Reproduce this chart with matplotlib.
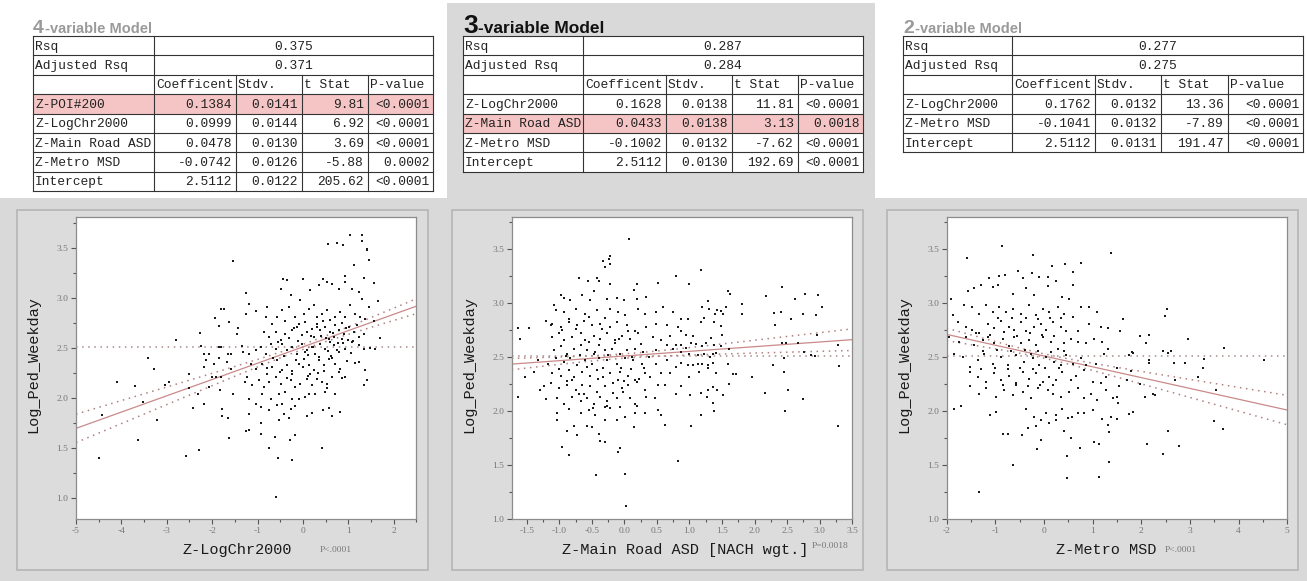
import numpy as np
import matplotlib
matplotlib.use('Agg')
import matplotlib.pyplot as plt
from matplotlib.ticker import MultipleLocator, AutoMinorLocator
from matplotlib.patches import Rectangle

plt.rcParams['axes.unicode_minus'] = False

# ---------------- table data ----------------
t4_rsq, t4_adj = '0.375', '0.371'
t4_vars = ['Z-POI#200', 'Z-LogChr2000', 'Z-Main Road ASD', 'Z-Metro MSD', 'Intercept']
t4_coef = [0.1384, 0.0999, 0.0478, -0.0742, 2.5112]
t4_stdv = [0.0141, 0.0144, 0.0130, 0.0126, 0.0122]
t4_tstat = [9.81, 6.92, 3.69, -5.88, 205.62]
t4_pval = ['<0.0001', '<0.0001', '<0.0001', '0.0002', '<0.0001']

t3_rsq, t3_adj = '0.287', '0.284'
t3_vars = ['Z-LogChr2000', 'Z-Main Road ASD', 'Z-Metro MSD', 'Intercept']
t3_coef = [0.1628, 0.0433, -0.1002, 2.5112]
t3_stdv = [0.0138, 0.0138, 0.0132, 0.0130]
t3_tstat = [11.81, 3.13, -7.62, 192.69]
t3_pval = ['<0.0001', '0.0018', '<0.0001', '<0.0001']

t2_rsq, t2_adj = '0.277', '0.275'
t2_vars = ['Z-LogChr2000', 'Z-Metro MSD', 'Intercept']
t2_coef = [0.1762, -0.1041, 2.5112]
t2_stdv = [0.0132, 0.0132, 0.0131]
t2_tstat = [13.36, -7.89, 191.47]
t2_pval = ['<0.0001', '<0.0001', '<0.0001']

# ---------------- scatter data ----------------
p1_x = [-1.54, -1.26, -1.25, -1.80, -1.74, -1.94, -1.85, -1.63, -2.26, -1.44, -1.45, -2.79, -2.24, -1.85, -1.80,
        -1.34, -3.41, -2.17, -2.08, -2.13, -1.85, -1.66, -1.59, -1.32, -3.28, -2.19, -1.96, -1.67, -1.59, -4.10,
        -3.70, -3.04, -2.95, -2.51, -2.51, -2.00, -1.92, -1.80, -2.08, -1.83, -1.54, -1.28, -2.32, -2.17, -2.42,
        -4.43, -3.53, -3.21, -1.79, -1.79, -1.66, -1.26, -1.64, -3.64, -4.49, -2.58, -2.30,
        1.03, 1.31, 1.29, 0.55, 0.75, 0.89, 1.40, 1.42, 1.46, 1.12, -0.44, -0.35, 0.00, 0.43, 0.92, 1.35, 1.56,
        -1.18, -1.04, -0.79,
        -0.49, -0.27, -0.06, 0.16, 0.35, 0.53, 0.64, 0.79, 0.93, 1.08, 1.23, 1.30, 1.45, 1.65,
        -0.82, -0.68, -0.57, -0.46, -0.31, -0.17, -0.09, 0.02, 0.13, 0.24, 0.31, 0.42, 0.53, 0.60, 0.71, 0.82,
        0.93, 1.04, 1.15, 1.26, 1.37, 1.56,
        -0.86, -0.75, -0.60, -0.49, -0.39, -0.24, -0.13, -0.02, 0.09, 0.20, 0.31, 0.38, 0.49, 0.60, 0.68, 0.79,
        0.90, 1.01, 1.12, 1.23, 1.34, 1.70,
        -1.19, -1.04, -0.93, -0.82, -0.71, -0.60, -0.46, -0.35, -0.24, -0.13, -0.02, 0.09, 0.20, 0.27, 0.38, 0.49,
        0.60, 0.68, 0.79, 0.86, 0.93, 1.08, 1.23, 1.34, 1.48, 1.58,
        -1.15, -1.04, -0.90, -0.79, -0.68, -0.57, -0.46, -0.35, -0.24, -0.09, 0.02, 0.13, 0.24, 0.35, 0.46, 0.57,
        0.71, 0.82, 0.93, 1.23, 1.37,
        -1.23, -1.12, -0.97, -0.86, -0.75, -0.60, -0.49, -0.39, -0.27, -0.17, -0.06, 0.09, 0.20, 0.31, 0.42, 0.53,
        0.64, 0.86, 1.41, 1.34,
        -1.19, -1.04, -0.90, -0.71, -0.53, -0.46, -0.24, -0.09, 0.05, 0.13, 0.27, 0.49, 0.71,
        -1.19, -0.93, -0.75, -0.57, -0.42, -0.27, -0.17, 0.09, 0.20, 0.44, 0.57, 0.64, 0.81,
        -1.19, -0.93, -0.93, -0.62, -0.53, -0.31, -0.28, -0.17, -0.74, -0.55, -0.24, 0.42, -0.59,
        # denser core of the cloud
        -0.40, -0.20, 0.05, 0.18, 0.30, 0.45, 0.58, 0.70, 0.85, 1.00, -0.55, -0.30, -0.10, 0.10, 0.25,
        0.40, 0.55, 0.66, 0.78, 0.95, 1.10, -0.65, -0.42, -0.15, 0.04, 0.22, 0.36, 0.50, 0.62, 0.75, 0.88,
        1.05, 1.20, -0.80, -0.50, -0.25, 0.00, 0.15, 0.33, 0.47, 0.63, 0.80, 0.97, 1.15, -0.35, 0.12, 0.52]
p1_y = [3.37, 3.05, 2.84, 2.89, 2.89, 2.80, 2.72, 2.76, 2.65, 2.70, 2.64, 2.58, 2.52, 2.51, 2.51,
        2.52, 2.40, 2.44, 2.44, 2.38, 2.40, 2.44, 2.44, 2.46, 2.29, 2.31, 2.34, 2.36, 2.29, 2.16,
        2.12, 2.13, 2.16, 2.24, 2.10, 2.21, 2.21, 2.21, 2.11, 2.08, 2.04, 2.16, 2.04, 1.94, 1.90,
        1.83, 1.96, 1.78, 1.89, 1.82, 1.80, 1.67, 1.60, 1.58, 1.40, 1.42, 1.48,
        3.63, 3.63, 3.57, 3.54, 3.55, 3.53, 3.49, 3.48, 3.38, 3.33, 3.19, 3.18, 3.19, 3.19, 3.22, 3.20, 3.15,
        2.94, 2.87, 2.91,
        3.09, 3.03, 2.98, 3.08, 3.13, 3.16, 3.14, 3.09, 3.16, 3.09, 3.06, 2.99, 2.91, 2.97,
        2.81, 2.74, 2.81, 2.88, 2.91, 2.81, 2.74, 2.84, 2.89, 2.93, 2.81, 2.84, 2.88, 2.78, 2.81, 2.86,
        2.81, 2.93, 2.84, 2.81, 2.79, 2.77,
        2.66, 2.61, 2.66, 2.58, 2.64, 2.68, 2.71, 2.63, 2.66, 2.69, 2.74, 2.68, 2.71, 2.66, 2.61, 2.68,
        2.64, 2.71, 2.66, 2.61, 2.64, 2.60,
        2.44, 2.48, 2.51, 2.44, 2.54, 2.49, 2.54, 2.48, 2.51, 2.44, 2.54, 2.48, 2.51, 2.44, 2.54, 2.49,
        2.56, 2.53, 2.46, 2.59, 2.49, 2.56, 2.53, 2.49, 2.50, 2.49,
        2.34, 2.29, 2.34, 2.24, 2.31, 2.38, 2.28, 2.33, 2.24, 2.34, 2.39, 2.33, 2.28, 2.38, 2.33, 2.39,
        2.34, 2.29, 2.21, 2.36, 2.28,
        2.21, 2.13, 2.18, 2.11, 2.16, 2.21, 2.14, 2.06, 2.18, 2.11, 2.14, 2.19, 2.13, 2.19, 2.16, 2.14,
        2.21, 2.20, 2.18, 2.13,
        1.99, 1.94, 2.04, 1.99, 2.04, 1.94, 1.99, 1.99, 2.01, 2.04, 2.04, 2.06, 2.04,
        1.84, 1.91, 1.88, 1.93, 1.84, 1.89, 1.92, 1.82, 1.85, 1.88, 1.90, 1.82, 1.86,
        1.68, 1.75, 1.64, 1.61, 1.78, 1.80, 1.58, 1.63, 1.50, 1.40, 1.38, 1.50, 1.01,
        2.77, 2.70, 2.76, 2.62, 2.71, 2.77, 2.59, 2.73, 2.75, 2.58, 2.56, 2.60, 2.57, 2.43, 2.61,
        2.62, 2.47, 2.65, 2.55, 2.70, 2.57, 2.40, 2.42, 2.38, 2.46, 2.51, 2.41, 2.60, 2.42, 2.48, 2.55,
        2.45, 2.73, 2.30, 2.26, 2.27, 2.31, 2.24, 2.25, 2.27, 2.40, 2.26, 2.37, 2.35, 2.20, 2.22, 2.10]

p2_x = [0.07, -0.33, -0.24, -0.22, -0.29, -0.22, -0.70, -0.56, -0.42, -0.39, 0.80, 0.51, 0.19, 0.15, -0.22,
        -0.47, -0.65, -0.97, -0.93, -1.08, -1.21, -1.12, -1.63, -1.46, -1.60, -1.64, -1.52, -1.39, -1.29, -1.24,
        -1.21,
        -0.83, -0.52, -0.27, -0.12, -0.01, 0.19, 0.34,
        -1.05, -0.93, -0.75, -0.60, -0.42, -0.22, -0.09, 0.01, 0.21, 0.32, 0.49, 0.60, 0.75,
        -1.11, -0.98, -0.85, -0.72, -0.62, -0.50, -0.37, -0.22, -0.12, 0.04, 0.16, 0.34, 0.49, 0.65, 0.82,
        -1.11, -1.00, -0.93, -0.80, -0.67, -0.60, -0.47, -0.37, -0.27, -0.14, -0.04, 0.09, 0.21, 0.44, 0.57,
        0.70, 0.80,
        -1.08, -0.98, -0.88, -0.78, -0.67, -0.57, -0.47, -0.39, -0.29, -0.19, -0.06, 0.04, 0.16, 0.29, 0.49,
        0.65, 0.75,
        -1.33, -1.18, -1.05, -0.93, -0.83, -0.72, -0.60, -0.50, -0.39, -0.27, -0.12, 0.01, 0.14, 0.27, 0.49,
        0.65, 0.80,
        -1.11, -0.98, -0.85, -0.78, -0.65, -0.52, -0.42, -0.32, -0.22, -0.06, 0.06, 0.16, 0.32, 0.39, 0.57,
        0.70,
        -1.13, -1.00, -0.88, -0.75, -0.65, -0.52, -0.42, -0.29, -0.17, -0.04, 0.06, 0.19, 0.32, 0.52, 0.62,
        0.79,
        -1.03, -0.93, -0.80, -0.67, -0.57, -0.47, -0.37, -0.27, -0.12, 0.09, 0.16, 0.34, 0.47,
        -1.03, -0.85, -0.67, -0.55, -0.45, -0.29, -0.22, -0.06, 0.01, 0.16, 0.32, 0.52, 0.57,
        -1.03, -0.88, -0.78, -0.57, -0.50, -0.39, -0.29, -0.12, 0.15, 0.62, -0.72,
        -0.95, -0.85, -0.37, -0.29, -0.06, -0.09, -0.43, 0.01, 0.03, 0.82,
        1.17, 0.99, 1.59, 1.62, 1.28, 1.20, 1.30, 1.42, 1.48, 1.52, 1.39, 1.56, 1.80, 1.81, 2.17, 2.42, 2.62,
        2.77, 2.97, 3.04, 2.30, 2.41, 2.74, 2.94, 2.31, 2.56,
        0.87, 0.98, 1.18, 1.23, 1.38, 1.48, 0.87, 0.95, 1.05, 1.33, 1.50,
        0.87, 0.95, 1.03, 1.10, 1.20, 1.25, 1.38, 1.48,
        0.87, 1.00, 1.13, 1.23, 1.31, 1.36, 1.41, 1.61,
        0.87, 0.98, 1.05, 1.13, 1.20, 1.28, 1.36, 1.59,
        0.87, 1.00, 1.15, 1.28, 1.41,
        1.01, 1.18, 1.28, 1.36, 1.43, 1.51, 1.61, 1.67, 1.71,
        1.27, 1.36, 1.38, 1.17, 1.03,
        1.96, 2.16, 2.28, 2.46, 2.46, 2.49, 2.42, 2.67, 2.76, 2.87, 2.96, 2.93, 2.51, 2.75, 2.47, 3.28, 3.28,
        3.29,
        # denser core of the cloud
        -0.95, -0.75, -0.55, -0.35, -0.15, 0.05, 0.25, -0.90, -0.68, -0.45, -0.25, -0.05, 0.12, 0.38,
        -1.00, -0.80, -0.58, -0.33, -0.10, 0.10, 0.30, -0.88, -0.62, -0.40, -0.18, 0.00, 0.22, -0.70,
        -0.48, -0.26, -0.02, 0.20, -0.85, -0.55, -0.30, -0.08]
p2_y = [3.60, 3.39, 3.41, 3.44, 3.34, 3.36, 3.23, 3.21, 3.23, 3.21, 3.25, 3.19, 3.18, 3.12, 3.18,
        3.11, 3.08, 3.08, 3.05, 2.98, 2.84, 2.80, 2.77, 2.77, 2.67, 2.13, 2.32, 2.36, 2.20, 2.23,
        2.11,
        3.03, 3.03, 3.04, 3.05, 3.03, 3.04, 3.06,
        2.94, 2.92, 2.95, 2.90, 2.94, 2.95, 2.92, 2.89, 2.95, 2.90, 2.92, 2.97, 2.92,
        2.81, 2.78, 2.83, 2.80, 2.84, 2.80, 2.81, 2.78, 2.83, 2.80, 2.74, 2.78, 2.81, 2.80, 2.78,
        2.69, 2.72, 2.66, 2.69, 2.72, 2.66, 2.70, 2.67, 2.72, 2.66, 2.70, 2.67, 2.72, 2.69, 2.66,
        2.70, 2.61,
        2.57, 2.60, 2.53, 2.58, 2.61, 2.57, 2.53, 2.61, 2.57, 2.58, 2.53, 2.57, 2.58, 2.55, 2.57,
        2.61, 2.58,
        2.47, 2.44, 2.49, 2.46, 2.49, 2.43, 2.47, 2.44, 2.49, 2.47, 2.44, 2.49, 2.47, 2.44, 2.44,
        2.47, 2.41,
        2.35, 2.33, 2.38, 2.32, 2.36, 2.33, 2.38, 2.32, 2.35, 2.36, 2.33, 2.29, 2.35, 2.32, 2.35,
        2.35,
        2.26, 2.21, 2.24, 2.20, 2.24, 2.23, 2.18, 2.23, 2.26, 2.21, 2.24, 2.27, 2.20, 2.24, 2.24,
        2.16,
        2.12, 2.07, 2.13, 2.09, 2.12, 2.07, 2.13, 2.09, 2.12, 2.12, 2.07, 2.13, 2.12,
        1.98, 2.02, 1.98, 2.01, 1.96, 2.04, 2.03, 2.04, 1.95, 1.98, 1.98, 2.01, 1.96,
        1.92, 1.82, 1.86, 1.86, 1.85, 1.79, 1.92, 1.92, 1.85, 1.87, 1.78,
        1.67, 1.59, 1.72, 1.71, 1.66, 1.62, 1.41, 1.42, 1.12, 1.54,
        3.31, 3.18, 3.11, 3.09, 3.02, 2.97, 2.95, 2.94, 2.93, 2.90, 2.90, 2.97, 2.99, 2.90, 3.07, 3.15, 3.04,
        3.09, 3.08, 2.97, 2.91, 2.92, 2.90, 2.89, 2.80, 2.85,
        2.85, 2.85, 2.83, 2.86, 2.83, 2.79, 2.74, 2.71, 2.70, 2.68, 2.71,
        2.61, 2.59, 2.63, 2.62, 2.60, 2.63, 2.61, 2.60,
        2.55, 2.53, 2.52, 2.53, 2.50, 2.53, 2.54, 2.58,
        2.45, 2.43, 2.43, 2.44, 2.44, 2.43, 2.45, 2.44,
        2.23, 2.32, 2.36, 2.40, 2.35,
        2.15, 2.17, 2.20, 2.22, 2.20, 2.15, 2.25, 2.34, 2.34,
        2.13, 2.08, 2.00, 1.96, 1.86,
        2.32, 2.17, 2.43, 2.49, 2.36, 2.63, 2.63, 2.63, 2.55, 2.52, 2.71, 2.51, 2.20, 2.11, 2.00, 1.86, 2.61,
        2.42,
        2.75, 2.76, 2.64, 2.76, 2.63, 2.74, 2.62, 2.51, 2.52, 2.55, 2.52, 2.40, 2.50, 2.50,
        2.39, 2.29, 2.41, 2.40, 2.29, 2.39, 2.40, 2.28, 2.16, 2.30, 2.17, 2.28, 2.30, 2.16,
        2.03, 2.05, 2.18, 2.05, 2.85, 2.87, 2.86, 2.67]

p3_x = [-0.87, -1.59, -0.23, 1.38, 0.16, 0.43, 0.76, -0.54, 0.59, -1.14, -0.92, -0.80, -0.44, -0.25, -0.10,
        0.25, 0.08, -1.91, -1.57, -1.43, -1.29, -1.05, -0.95, -0.64, -0.37, -0.20, 0.08, 0.38, 0.59, 0.52,
        -1.88, -1.64, -1.47, -1.33, -1.19, -1.05, -0.92, -0.78, -0.64, -0.47, -0.30, -0.16, -0.03, 0.11, 0.28,
        0.42, 0.59, 0.76, 0.93, 1.10,
        -1.77, -1.60, -1.47, -1.33, -1.16, -1.02, -0.88, -0.71, -0.61, -0.47, -0.37, -0.20, -0.06, 0.04, 0.18,
        0.35, 0.45, 0.69, 0.93, 1.17, 1.31,
        -1.95, -1.74, -1.60, -1.43, -1.26, -1.16, -1.02, -0.85, -0.71, -0.61, -0.47, -0.30, -0.16, -0.03, 0.14,
        0.28, 0.42, 0.55, 0.69, 0.86, 1.03, 1.20, 1.31,
        -1.84, -1.67, -1.53, -1.36, -1.23, -1.05, -0.88, -0.75, -0.58, -0.41, -0.27, -0.23, -0.10, 0.04, 0.21,
        0.35, 0.45, 0.59, 0.76, 0.86, 1.07, 1.24,
        -1.53, -1.36, -1.19, -1.02, -0.88, -0.71, -0.58, -0.44, -0.30, -0.16, -0.03, 0.11, 0.25, 0.38, 0.55,
        0.66, 0.83, 1.00, 1.17, 1.27,
        -1.53, -1.33, -1.19, -0.99, -0.82, -0.64, -0.44, -0.27, -0.13, 0.08, 0.18, 0.35, 0.52, 0.69, 0.83,
        0.97, 1.10, 1.27, 1.41,
        -1.84, -1.71, -1.12, -0.99, -0.37, -0.20, -0.06, 0.04, 0.25, 0.38, 0.49, 0.58, 0.69, 0.83, 1.00,
        1.20, 1.38, 1.31,
        -0.85, -0.75, -0.45, -0.32, -0.17, 0.11, 0.25, 0.42, 0.55, 0.75, 1.02, 1.14, 1.34, -0.14, -0.06,
        -0.64, 0.47, 0.48, 1.14, 1.34, -1.34,
        2.52, 2.49, 1.63, 1.57, 1.98, 2.16, 2.10, 2.97, 3.71, 1.80, 1.82, 1.74, 2.44, 2.54, 2.61, 2.16, 2.16,
        2.68, 2.90, 3.29, 3.27, 4.53, 1.51, 1.79, 1.55, 1.70, 1.98, 2.70, 3.16, 3.53, 1.51, 1.53, 2.08, 2.25,
        2.28, 1.51, 1.75, 1.84, 2.55, 3.50, 3.69, 2.12, 2.78, 2.44,
        # denser core of the cloud
        -1.40, -1.10, -0.82, -0.55, -0.28, -0.05, 0.20, -1.25, -0.96, -0.68, -0.40, -0.12, 0.15, 0.42,
        -1.30, -1.00, -0.75, -0.50, -0.22, 0.02, 0.30, -0.85, -0.58, -0.33, -0.08, 0.18, -0.95, -0.65,
        -0.38, -0.12, 0.12, 0.36]
p3_y = [3.53, 3.42, 3.45, 3.47, 3.35, 3.36, 3.37, 3.30, 3.29, 3.23, 3.25, 3.26, 3.23, 3.28, 3.24,
        3.21, 3.24, 3.04, 3.11, 3.14, 3.17, 3.15, 3.17, 3.09, 3.14, 3.08, 3.16, 3.06, 3.17, 3.04,
        2.89, 2.98, 2.97, 2.90, 2.98, 2.92, 2.97, 2.92, 2.95, 2.90, 2.98, 2.89, 2.95, 2.92, 2.97,
        2.90, 2.87, 2.97, 2.97, 2.92,
        2.83, 2.78, 2.75, 2.72, 2.81, 2.77, 2.84, 2.78, 2.75, 2.83, 2.74, 2.78, 2.81, 2.75, 2.83,
        2.78, 2.74, 2.74, 2.81, 2.78, 2.77,
        2.69, 2.64, 2.69, 2.61, 2.66, 2.69, 2.63, 2.67, 2.60, 2.69, 2.63, 2.66, 2.61, 2.69, 2.64,
        2.58, 2.63, 2.67, 2.64, 2.63, 2.67, 2.64, 2.58,
        2.53, 2.50, 2.41, 2.47, 2.53, 2.44, 2.50, 2.43, 2.52, 2.46, 2.53, 2.49, 2.43, 2.50, 2.46,
        2.43, 2.52, 2.44, 2.49, 2.43, 2.44, 2.53,
        2.36, 2.32, 2.27, 2.35, 2.29, 2.33, 2.26, 2.36, 2.30, 2.35, 2.27, 2.32, 2.29, 2.36, 2.29,
        2.33, 2.38, 2.27, 2.26, 2.32,
        2.23, 2.16, 2.21, 2.13, 2.20, 2.15, 2.18, 2.12, 2.21, 2.20, 2.16, 2.13, 2.18, 2.21, 2.12,
        2.16, 2.10, 2.20, 2.12,
        2.02, 2.05, 1.96, 1.99, 2.02, 1.95, 1.92, 1.98, 1.96, 2.02, 1.94, 1.95, 1.98, 1.98, 2.01,
        1.93, 1.95, 1.87,
        1.79, 1.79, 1.78, 1.84, 1.86, 1.89, 1.92, 1.82, 1.75, 1.66, 1.71, 1.70, 1.81, 1.65, 1.73,
        1.50, 1.58, 1.38, 1.39, 1.53, 1.25,
        2.95, 2.88, 2.85, 2.74, 2.70, 2.71, 2.63, 2.67, 2.59, 2.55, 2.54, 2.52, 2.56, 2.54, 2.56, 2.47, 2.45,
        2.45, 2.45, 2.48, 2.40, 2.47, 2.40, 2.37, 2.23, 2.29, 2.25, 2.29, 2.32, 2.20, 2.13, 2.08, 2.13, 2.16,
        2.15, 1.93, 1.97, 1.99, 1.82, 1.91, 1.83, 1.70, 1.68, 1.60,
        2.72, 2.71, 2.73, 2.70, 2.72, 2.71, 2.70, 2.56, 2.57, 2.56, 2.57, 2.56, 2.55, 2.56,
        2.39, 2.40, 2.39, 2.40, 2.39, 2.40, 2.40, 2.24, 2.24, 2.23, 2.24, 2.24, 2.86, 2.86,
        2.86, 2.85, 2.86, 2.86]

# regression read-offs: intercept, slope, band half-width at x=0 and growth per unit x
intercept = 2.5112
slopes = [0.163, 0.0433, -0.1002]
band_a = [0.025, 0.02, 0.02]
band_b = [0.028, 0.028, 0.027]

xlabels = ['Z-LogChr2000', 'Z-Main Road ASD [NACH wgt.]', 'Z-Metro MSD']
ptexts = ['P<.0001', 'P=0.0018', 'P<.0001']

W, H = 1307, 581
fig = plt.figure(figsize=(W / 100, H / 100), dpi=100)
fig.patch.set_facecolor('white')

bg = fig.add_axes([0, 0, 1, 1])
bg.set_xlim(0, W)
bg.set_ylim(H, 0)
bg.axis('off')

gray = '#d9d9d9'
bg.add_patch(Rectangle((0, 198), W, H - 198, color=gray, lw=0))
bg.add_patch(Rectangle((447, 3), 428, 196, color=gray, lw=0))
for px in [17, 452, 887]:
    bg.add_patch(Rectangle((px, 210), 411, 360, facecolor='#dcdcdc', edgecolor='#b5b5b5', lw=1.2))

mono = 'Liberation Mono'
tfs = 9.3
RH = 19.4
TOP = 36


def draw_title(x, digit, size_big, size_small, color, dx):
    bg.text(x, 33, digit, fontsize=size_big, fontweight='bold', color=color,
            family='Liberation Sans', va='baseline', ha='left')
    bg.text(x + dx, 33, '-variable Model', fontsize=size_small, fontweight='bold', color=color,
            family='Liberation Sans', va='baseline', ha='left')


def draw_table(xe, rsq, adj, names, coef, stdv, tstat, pval, pink=None):
    n = 3 + len(names)
    bottom = TOP + n * RH
    bg.add_patch(Rectangle((xe[0], TOP), xe[-1] - xe[0], n * RH, color='white', lw=0))
    if pink is not None:
        yp = TOP + (3 + pink) * RH
        bg.add_patch(Rectangle((xe[0], yp), xe[-1] - xe[0], RH, color='#f5c5c5', lw=0))
    for i in range(n + 1):
        y = TOP + i * RH
        bg.plot([xe[0], xe[-1]], [y, y], color='#333333', lw=0.8)
    bg.plot([xe[0], xe[0]], [TOP, bottom], color='#333333', lw=0.8)
    bg.plot([xe[-1], xe[-1]], [TOP, bottom], color='#333333', lw=0.8)
    bg.plot([xe[1], xe[1]], [TOP, bottom], color='#333333', lw=0.8)
    for k in range(2, 5):
        bg.plot([xe[k], xe[k]], [TOP + 2 * RH, bottom], color='#333333', lw=0.8)

    def cell(row, txt, x, ha):
        bg.text(x, TOP + (row + 0.55) * RH, txt, fontsize=tfs, family=mono, color='#222222',
                ha=ha, va='center')

    mid = (xe[1] + xe[-1]) / 2
    cell(0, 'Rsq', xe[0] + 2, 'left')
    cell(0, rsq, mid, 'center')
    cell(1, 'Adjusted Rsq', xe[0] + 2, 'left')
    cell(1, adj, mid, 'center')
    for k, h in enumerate(['Coefficent', 'Stdv.', 't Stat', 'P-value']):
        cell(2, h, xe[k + 1] + 2, 'left')
    for r, name in enumerate(names):
        cell(3 + r, name, xe[0] + 2, 'left')
        cell(3 + r, f'{coef[r]:.4f}', xe[2] - 4, 'right')
        cell(3 + r, f'{stdv[r]:.4f}', xe[3] - 4, 'right')
        cell(3 + r, f'{tstat[r]:.2f}', xe[4] - 4, 'right')
        cell(3 + r, pval[r], xe[5] - 3, 'right')


draw_title(33, '4', 14, 10.5, '#9a9a9a', 12)
draw_table([33, 154, 236, 302, 368, 433], t4_rsq, t4_adj, t4_vars, t4_coef, t4_stdv, t4_tstat, t4_pval, pink=0)

draw_title(463, '3', 19, 12.5, '#111111', 15)
draw_table([463, 583, 666, 732, 798, 863], t3_rsq, t3_adj, t3_vars, t3_coef, t3_stdv, t3_tstat, t3_pval, pink=1)

draw_title(903, '2', 14, 10.5, '#9a9a9a', 12)
draw_table([903, 1012, 1095, 1161, 1228, 1303], t2_rsq, t2_adj, t2_vars, t2_coef, t2_stdv, t2_tstat, t2_pval)

# ---------------- scatter panels ----------------
panels = [
    (p1_x, p1_y, 76.0, (-5, 2.5), (0.79, 3.81), 1.0, 0.475, 0.716, -0.103),
    (p2_x, p2_y, 511.7, (-1.73, 3.5), (1.0, 3.8), 0.5, 0.509, 0.880, -0.09),
    (p3_x, p3_y, 946.7, (-2, 5), (1.0, 3.8), 1.0, 0.468, 0.640, -0.103),
]
pw, top_px, bot_px = 340.5, 217.0, 519.0

for i, (xs, ys, x0, xl, yl, xmaj, labx, ptx, pty) in enumerate(panels):
    ax = fig.add_axes([x0 / W, 1 - bot_px / H, pw / W, (bot_px - top_px) / H])
    ax.set_facecolor('white')
    ax.set_xlim(*xl)
    ax.set_ylim(*yl)
    for s in ax.spines.values():
        s.set_color('#8c8c8c')
        s.set_linewidth(0.9)

    xx = np.linspace(xl[0], xl[1], 200)
    fit = intercept + slopes[i] * xx
    half = np.sqrt(band_a[i] ** 2 + (band_b[i] * xx) ** 2)
    ax.axhline(intercept, color='#a88a8a', lw=1.1, ls=(0, (1, 3)), zorder=1)
    ax.plot(xx, fit + half, color='#b08080', lw=1.1, ls=(0, (1, 3)), zorder=1)
    ax.plot(xx, fit - half, color='#b08080', lw=1.1, ls=(0, (1, 3)), zorder=1)
    ax.plot(xx, fit, color='#c98a8a', lw=0.9, zorder=2)

    ax.scatter(xs, ys, s=3, marker='s', color='#1a1a1a', linewidths=0, zorder=3)

    ax.xaxis.set_major_locator(MultipleLocator(xmaj))
    ax.xaxis.set_minor_locator(AutoMinorLocator(2))
    ax.yaxis.set_major_locator(MultipleLocator(0.5))
    ax.yaxis.set_minor_locator(AutoMinorLocator(2))
    ax.tick_params(which='both', direction='out', color='#555555', width=0.8)
    ax.tick_params(which='major', length=3.5, labelsize=6.8, labelcolor='#777777', pad=2)
    ax.tick_params(which='minor', length=2)
    if i == 1:
        ax.xaxis.set_major_formatter(matplotlib.ticker.FormatStrFormatter('%.1f'))
    ax.yaxis.set_major_formatter(matplotlib.ticker.FormatStrFormatter('%.1f'))
    for lab in ax.get_xticklabels() + ax.get_yticklabels():
        lab.set_family('Liberation Serif')

    ax.set_ylabel('Log_Ped_Weekday', fontsize=11, family=mono, color='#1a1a1a')
    ax.yaxis.set_label_coords(-0.105, 0.51)
    ax.set_xlabel(xlabels[i], fontsize=11, family=mono, color='#1a1a1a')
    ax.xaxis.set_label_coords(labx, -0.078)
    ax.text(ptx, pty, ptexts[i], transform=ax.transAxes, fontsize=6.8, family='Liberation Serif',
            color='#777777', ha='left', va='center')

fig.savefig('out.png', dpi=100)
